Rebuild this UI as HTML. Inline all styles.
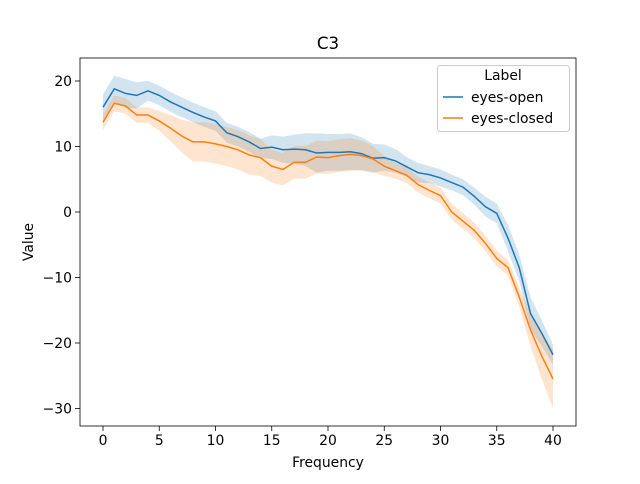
<!DOCTYPE html>
<html><head><meta charset="utf-8"><style>
body{margin:0;background:#fff;font-family:"DejaVu Sans","Liberation Sans",sans-serif}
</style></head><body>
<svg id="c" width="640" height="480" xmlns="http://www.w3.org/2000/svg" style="font-family:'DejaVu Sans','Liberation Sans',sans-serif"></svg>
<script>
const xs=[...Array(41).keys()];
const openMean=[16,18.8,18.1,17.8,18.5,17.8,16.8,16,15.2,14.5,13.9,12.1,11.5,10.7,9.7,9.9,9.5,9.6,9.5,9,9.1,9.1,9.2,8.9,8.2,8.3,7.8,6.9,6,5.7,5.2,4.5,3.8,2.4,0.8,-0.2,-4,-8.5,-15.5,-18.5,-21.8];
const openErr=[2,2,2.2,2,1.5,1.5,1.5,1.5,1.5,1.5,1.5,1.5,1.5,1.5,1.5,1.8,2,2.2,2.5,3,2.8,2.8,2.8,2.5,2.2,2,1.8,1.5,1.5,1.3,1.3,1.2,1.2,1.3,1.5,1.5,2,2,2.5,2,1.5];
const closedMean=[13.7,16.6,16.2,14.8,14.8,13.9,12.8,11.6,10.7,10.7,10.4,10,9.5,8.7,8.3,7,6.5,7.6,7.6,8.4,8.3,8.6,8.8,8.6,8.1,7,6.3,5.6,4.2,3.3,2.5,0,-1.4,-2.8,-4.8,-7.1,-8.5,-13,-18,-22,-25.5];
const closedErr=[1.2,1.2,1.2,1.2,1.2,1.5,2,2.5,3,3,3,3,3,3,2.8,2.5,2.5,2.5,2.5,2.5,2.5,2.5,2.5,2.3,2,1.5,1.2,1.2,1.2,1.2,1.2,1.2,1.2,1.2,1.2,1.2,1.2,1.5,2.5,3.5,4.5];
const xTicks=[0,5,10,15,20,25,30,35,40];
const yTicks=[20,10,0,-10,-20,-30];
const X=v=>103+v*11.25, Y=v=>212-v*6.55;
const svg=document.getElementById('c');const NS='http://www.w3.org/2000/svg';
function mk(t,a,p){const e=document.createElementNS(NS,t);for(const k in a)e.setAttribute(k,a[k]);(p||svg).appendChild(e);return e;}
function band(m,e,col,name){
 let top=xs.map((x,i)=>X(x)+','+Y(m[i]+e[i])),bot=xs.map((x,i)=>X(x)+','+Y(m[i]-e[i])).reverse();
 const p=mk('polygon',{points:top.concat(bot).join(' '),fill:col,'fill-opacity':0.2});
 
 
}
function line(m,col,name){
 const p=mk('polyline',{points:xs.map((x,i)=>X(x)+','+Y(m[i])).join(' '),fill:'none',stroke:col,'stroke-width':1.5});
 
 
}
band(openMean,openErr,'#1f77b4','eyes-open');
band(closedMean,closedErr,'#ff7f0e','eyes-closed');
line(openMean,'#1f77b4','eyes-open');
line(closedMean,'#ff7f0e','eyes-closed');
const fr=mk('rect',{x:80,y:58,width:496,height:368,fill:'none',stroke:'#000','stroke-width':0.8});


xTicks.forEach(t=>{mk('line',{x1:X(t),x2:X(t),y1:426,y2:431,stroke:'#000','stroke-width':0.8});
 const tx=mk('text',{x:X(t),y:445,'font-size':13.9,'text-anchor':'middle'});tx.textContent=t;
 
 });
yTicks.forEach(t=>{mk('line',{x1:75,x2:80,y1:Y(t),y2:Y(t),stroke:'#000','stroke-width':0.8});
 const tx=mk('text',{x:72,y:Y(t)+5,'font-size':13.9,'text-anchor':'end'});tx.textContent=String(t).replace('-','\u2212');
 
 });
</script>
<svg width="640" height="480" style="position:absolute;left:0;top:0;font-family:'DejaVu Sans','Liberation Sans',sans-serif" xmlns="http://www.w3.org/2000/svg">
<text x="328" y="49" font-size="16.7" text-anchor="middle">C3</text>
<text x="328" y="467" font-size="13.9" text-anchor="middle">Frequency</text>
<text x="33" y="242" font-size="13.9" text-anchor="middle" transform="rotate(-90 33 242)">Value</text>
<g>
<rect x="437.5" y="65.5" width="132" height="66" rx="3" fill="#fff" fill-opacity="0.8" stroke="#ccc"/>
<text x="503" y="80" font-size="13.9" text-anchor="middle">Label</text>
<line x1="443" x2="463" y1="97" y2="97" stroke="#1f77b4" stroke-width="1.5"/>
<text x="471" y="102" font-size="13.9">eyes-open</text>
<line x1="443" x2="463" y1="118" y2="118" stroke="#ff7f0e" stroke-width="1.5"/>
<text x="471" y="123" font-size="13.9">eyes-closed</text>
</g>
</svg>
</body></html>
